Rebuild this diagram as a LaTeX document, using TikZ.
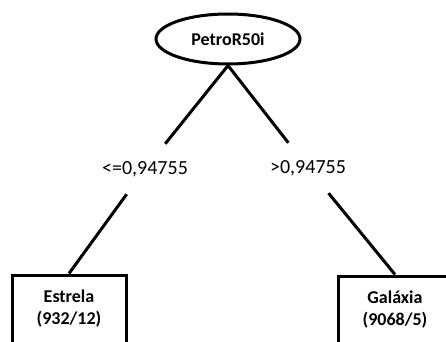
\documentclass[tikz,border=0pt]{standalone}
\usepackage{fontspec}
\setmainfont{Carlito}
\usetikzlibrary{shapes.geometric}
\tikzset{
    attr/.style = {
        ellipse, draw, line width=3pt,
        minimum width=144pt,
        minimum height=50pt,
        inner sep=0pt,
        font=\fontsize{18}{22}\selectfont\bfseries
    },
    cond/.style = {
        rectangle,
        minimum width=90pt,
        minimum height=50pt,
        inner sep=0pt,
        font=\fontsize{20}{24}\selectfont
    },
    leaf/.style = {
        rectangle, draw, line width=3pt,
        minimum width=114pt,
        minimum height=68pt,
        align=center,
        font=\fontsize{18}{22}\selectfont\bfseries
    },
    edge/.style = {
        line width=3pt
    }
}

\begin{document}
\begin{tikzpicture}[node distance=129pt]

\useasboundingbox (0pt,0pt) rectangle (446pt,341pt);
\clip (0pt,0pt) rectangle (446pt,341pt);

\node (petro) [attr] at (228pt,302pt) {PetroR50i};
\node (lo) [cond, below of=petro, xshift=-83pt, yshift=-1pt] {<=0,94755};
\node (hi) [cond, below of=petro, xshift=80pt] {>0,94755};
\node (estrela) [leaf, below of=lo, xshift=-76pt, yshift=-11pt] {Estrela\\(932/12)};
\node (galaxia) [leaf, below of=hi, xshift=87pt, yshift=-13pt] {Galáxia\\(9068/5)};

\draw [edge] (petro.south) -- (lo);
\draw [edge] (petro.south) -- (hi);
\draw [edge] (lo) -- (estrela.north);
\draw [edge] (hi) -- (galaxia.north);

\end{tikzpicture}
\end{document}
